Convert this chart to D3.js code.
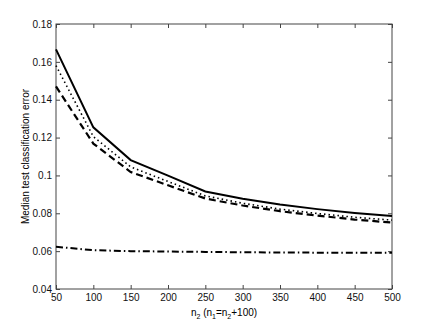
<!DOCTYPE html>
<html>
<head>
<meta charset="utf-8">
<script src="https://cdn.jsdelivr.net/npm/d3@7"></script>
<style>
  body { margin: 0; background: #fff; }
  text { font-family: "Liberation Sans", Arial, sans-serif; }
</style>
</head>
<body>
<div id="vis"></div>
<script>
const nValues = [50, 100, 150, 200, 250, 300, 350, 400, 450, 500];
const solidErr = [0.1666, 0.1254, 0.1081, 0.0999, 0.0915, 0.0877, 0.0846, 0.0822, 0.0802, 0.0786];
const dottedErr = [0.158, 0.1205, 0.1045, 0.0968, 0.0892, 0.0853, 0.0822, 0.0799, 0.0779, 0.0764];
const dashedErr = [0.147, 0.1168, 0.1018, 0.0948, 0.0878, 0.0841, 0.0811, 0.0788, 0.0767, 0.0751];
const dashDotErr = [0.0623, 0.0605, 0.0600, 0.0598, 0.0596, 0.0594, 0.0593, 0.0592, 0.0591, 0.0591];
const xTicks = [50, 100, 150, 200, 250, 300, 350, 400, 450, 500];
const yTicks = [0.04, 0.06, 0.08, 0.1, 0.12, 0.14, 0.16, 0.18];

const series = [
  { values: solidErr, dash: null, w: 2 },
  { values: dottedErr, dash: "1.5,3", w: 1.6 },
  { values: dashedErr, dash: "7,4", w: 2.2 },
  { values: dashDotErr, dash: "7,3,1.5,3", w: 2 }
];

const W = 432, H = 325;
const margin = { top: 24, right: 40, bottom: 36, left: 56 };
const width = W - margin.left - margin.right;
const height = H - margin.top - margin.bottom;

const svg = d3.select("#vis").append("svg")
  .attr("width", W).attr("height", H)
  .append("g")
  .attr("transform", `translate(${margin.left},${margin.top})`);

const x = d3.scaleLinear().domain([50, 500]).range([0, width]);
const y = d3.scaleLinear().domain([0.04, 0.18]).range([height, 0]);

const axisColor = "#444";

function styleAxis(g) {
  g.select(".domain").remove();
  g.selectAll(".tick line").attr("stroke", axisColor);
  g.selectAll(".tick text").attr("fill", "#111").attr("font-size", "10px");
}

svg.append("g")
  .attr("transform", `translate(0,${height})`)
  .call(d3.axisBottom(x).tickValues(xTicks).tickSize(-4).tickPadding(5).tickFormat(d3.format("d")))
  .call(styleAxis);

svg.append("g")
  .call(d3.axisTop(x).tickValues(xTicks).tickSize(-4).tickFormat(""))
  .call(styleAxis);

svg.append("g")
  .call(d3.axisLeft(y).tickValues(yTicks).tickSize(-4).tickPadding(4).tickFormat(d => d === 0.1 ? "0.1" : d3.format(".2f")(d)))
  .call(styleAxis);

svg.append("g")
  .attr("transform", `translate(${width},0)`)
  .call(d3.axisRight(y).tickValues(yTicks).tickSize(-4).tickFormat(""))
  .call(styleAxis);

svg.append("rect")
  .attr("width", width).attr("height", height)
  .attr("fill", "none").attr("stroke", axisColor).attr("stroke-width", 1);

const line = d3.line()
  .x((d, i) => x(nValues[i]))
  .y(d => y(d));

series.forEach(s => {
  svg.append("path")
    .datum(s.values)
    .attr("fill", "none")
    .attr("stroke", "#000")
    .attr("stroke-width", s.w)
    .attr("stroke-dasharray", s.dash)
    .attr("d", line);
});

svg.append("text")
  .attr("transform", "rotate(-90)")
  .attr("x", -height / 2)
  .attr("y", -27)
  .attr("text-anchor", "middle")
  .attr("font-size", "10px")
  .text("Median test classification error");

const xl = svg.append("text")
  .attr("x", width / 2)
  .attr("y", height + 27)
  .attr("text-anchor", "middle")
  .attr("font-size", "10px");
xl.append("tspan").text("n");
xl.append("tspan").attr("font-size", "7px").attr("dy", 3).text("2");
xl.append("tspan").attr("dy", -3).text(" (n");
xl.append("tspan").attr("font-size", "7px").attr("dy", 3).text("1");
xl.append("tspan").attr("dy", -3).text("=n");
xl.append("tspan").attr("font-size", "7px").attr("dy", 3).text("2");
xl.append("tspan").attr("dy", -3).text("+100)");
</script>
</body>
</html>
